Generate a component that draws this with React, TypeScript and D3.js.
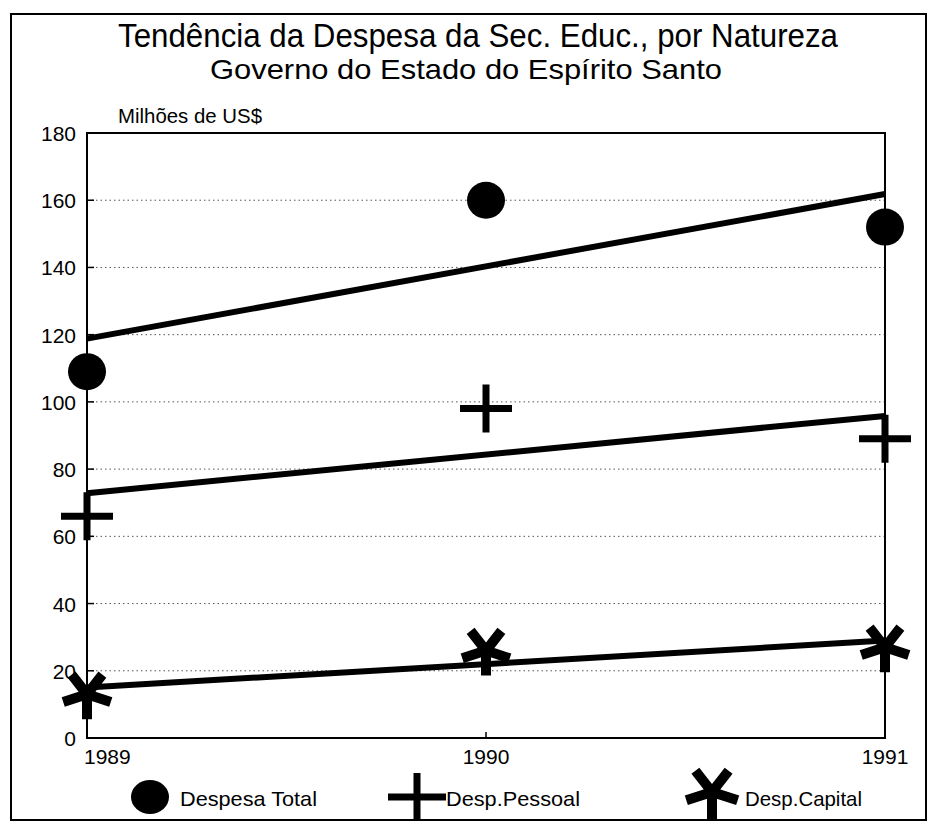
import { useEffect, useRef } from "react";
import * as d3 from "d3";

const years = ["1989", "1990", "1991"];
const yTicks = [0, 20, 40, 60, 80, 100, 120, 140, 160, 180];
const despesaTotal = [109, 160, 152];
const despPessoal = [66, 98, 89];
const despCapital = [13, 26, 27];

const seriesNames = ["Despesa Total", "Desp.Pessoal", "Desp.Capital"];
const seriesValues = [despesaTotal, despPessoal, despCapital];
const seriesMarkers = ["circle", "plus", "asterisk"];

const W = 936;
const H = 826;
const FONT = "'Liberation Sans', Arial, sans-serif";

// least squares line through the 3 yearly points
const fit = (vals: number[]) => {
  const n = vals.length;
  const xs = vals.map((_, i) => i);
  const mx = d3.mean(xs) as number;
  const my = d3.mean(vals) as number;
  const b =
    d3.sum(xs.map((x, i) => (x - mx) * (vals[i] - my))) /
    d3.sum(xs.map((x) => (x - mx) * (x - mx)));
  const a = my - b * mx;
  return [a, a + b * (n - 1)];
};

const plusPath = (cx: number, cy: number, hw: number, hh: number) =>
  `M${cx - hw},${cy}L${cx + hw},${cy}M${cx},${cy - hh}L${cx},${cy + hh}`;

const asteriskPath = (cx: number, cy: number, len: number) =>
  [90, 18, -52, -128, 162]
    .map((deg) => {
      const r = (deg * Math.PI) / 180;
      return `M${cx},${cy}L${cx + len * Math.cos(r)},${cy + len * Math.sin(r)}`;
    })
    .join("");

const App = () => {
  const ref = useRef<SVGSVGElement>(null);

  useEffect(() => {
    const svg = d3.select(ref.current);
    svg.selectAll("*").remove();

    const x = d3.scalePoint().domain(years).range([87, 885]);
    const y = d3.scaleLinear().domain([0, 180]).range([738, 133]);
    const x0 = x("1989") as number;
    const x1 = x("1991") as number;

    // outer frame
    svg
      .append("rect")
      .attr("x", 11)
      .attr("y", 14)
      .attr("width", 915)
      .attr("height", 806)
      .attr("fill", "white")
      .attr("stroke", "black")
      .attr("stroke-width", 2);

    svg
      .append("text")
      .attr("x", 478)
      .attr("y", 47)
      .attr("text-anchor", "middle")
      .attr("textLength", 720)
      .attr("lengthAdjust", "spacingAndGlyphs")
      .style("font-family", FONT)
      .style("font-size", "33px")
      .text("Tendência da Despesa da Sec. Educ., por Natureza");

    svg
      .append("text")
      .attr("x", 466)
      .attr("y", 79)
      .attr("text-anchor", "middle")
      .attr("textLength", 512)
      .attr("lengthAdjust", "spacingAndGlyphs")
      .style("font-family", FONT)
      .style("font-size", "28px")
      .text("Governo do Estado do Espírito Santo");

    svg
      .append("text")
      .attr("x", 118)
      .attr("y", 123)
      .attr("textLength", 144)
      .attr("lengthAdjust", "spacingAndGlyphs")
      .style("font-family", FONT)
      .style("font-size", "20px")
      .text("Milhões de US$");

    // gridlines
    svg
      .selectAll("line.grid")
      .data(yTicks.filter((t) => t > 0 && t < 180))
      .enter()
      .append("line")
      .attr("class", "grid")
      .attr("x1", x0)
      .attr("x2", x1)
      .attr("y1", (d) => y(d))
      .attr("y2", (d) => y(d))
      .attr("stroke", "#555")
      .attr("stroke-width", 1)
      .attr("stroke-dasharray", "1.5,3");

    // y ticks
    svg
      .selectAll("line.ytick")
      .data(yTicks)
      .enter()
      .append("line")
      .attr("class", "ytick")
      .attr("x1", x0)
      .attr("x2", x0 + 7)
      .attr("y1", (d) => y(d))
      .attr("y2", (d) => y(d))
      .attr("stroke", "black")
      .attr("stroke-width", 1.5);

    // plot frame
    svg
      .append("rect")
      .attr("x", x0)
      .attr("y", y(180))
      .attr("width", x1 - x0)
      .attr("height", y(0) - y(180))
      .attr("fill", "none")
      .attr("stroke", "black")
      .attr("stroke-width", 2);

    svg
      .append("line")
      .attr("x1", x("1990") as number)
      .attr("x2", x("1990") as number)
      .attr("y1", y(0))
      .attr("y2", y(0) - 6)
      .attr("stroke", "black")
      .attr("stroke-width", 1.5);

    svg
      .selectAll("text.ylab")
      .data(yTicks)
      .enter()
      .append("text")
      .attr("class", "ylab")
      .attr("x", 76)
      .attr("y", (d) => y(d) + 8)
      .attr("text-anchor", "end")
      .style("font-family", FONT)
      .style("font-size", "21px")
      .text((d) => d);

    svg
      .selectAll("text.xlab")
      .data(years)
      .enter()
      .append("text")
      .attr("class", "xlab")
      .attr("x", (d, i) => (i === 0 ? (x(d) as number) - 3 : (x(d) as number)))
      .attr("y", 764)
      .attr("text-anchor", (d, i) => (i === 0 ? "start" : "middle"))
      .style("font-family", FONT)
      .style("font-size", "21px")
      .text((d) => d);

    // trend lines
    seriesValues.forEach((vals) => {
      const [a, b] = fit(vals);
      svg
        .append("line")
        .attr("x1", x0)
        .attr("x2", x1)
        .attr("y1", y(a))
        .attr("y2", y(b))
        .attr("stroke", "black")
        .attr("stroke-width", 6);
    });

    const drawMarker = (
      kind: string,
      cx: number,
      cy: number,
      legend: boolean
    ) => {
      if (kind === "circle") {
        svg
          .append("ellipse")
          .attr("cx", cx)
          .attr("cy", cy)
          .attr("rx", 19)
          .attr("ry", legend ? 17 : 18.5)
          .attr("fill", "black");
      } else if (kind === "plus") {
        svg
          .append("path")
          .attr("d", plusPath(cx, cy, legend ? 29 : 26, 24))
          .attr("stroke", "black")
          .attr("stroke-width", 7)
          .attr("fill", "none");
      } else {
        svg
          .append("path")
          .attr("d", asteriskPath(cx, cy, legend ? 27 : 25))
          .attr("stroke", "black")
          .attr("stroke-width", 10)
          .attr("fill", "none");
      }
    };

    seriesValues.forEach((vals, s) => {
      vals.forEach((v, i) => {
        drawMarker(seriesMarkers[s], x(years[i]) as number, y(v), false);
      });
    });

    // legend
    const legendX = [150, 417, 712];
    const legendTextX = [180, 446, 745];
    const legendLen = [137, 134, 117];
    const legendY = [797, 797, 792];
    seriesNames.forEach((name, s) => {
      drawMarker(seriesMarkers[s], legendX[s], legendY[s], true);
      svg
        .append("text")
        .attr("x", legendTextX[s])
        .attr("y", 806)
        .attr("textLength", legendLen[s])
        .attr("lengthAdjust", "spacingAndGlyphs")
        .style("font-family", FONT)
        .style("font-size", "21px")
        .text(name);
    });
  }, []);

  return (
    <svg
      ref={ref}
      width={W}
      height={H}
      style={{ position: "absolute", left: 0, top: 0, background: "white" }}
    />
  );
};

export default App;
